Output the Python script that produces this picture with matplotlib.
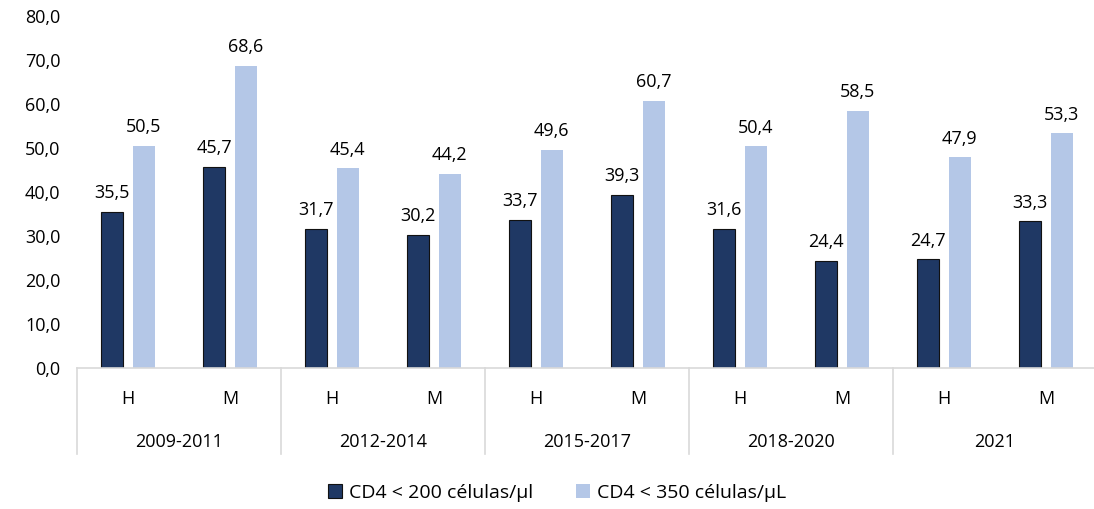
import matplotlib
matplotlib.use("Agg")
import matplotlib.pyplot as plt
import numpy as np

groups = ["2009-2011", "2012-2014", "2015-2017", "2018-2020", "2021"]
sexes = ["H", "M"]
cd4_200 = [35.5, 45.7, 31.7, 30.2, 33.7, 39.3, 31.6, 24.4, 24.7, 33.3]
cd4_350 = [50.5, 68.6, 45.4, 44.2, 49.6, 60.7, 50.4, 58.5, 47.9, 53.3]
yticks = [0, 10, 20, 30, 40, 50, 60, 70, 80]

DARK = "#1F3864"
LIGHT = "#B4C7E7"
GRID = "#D9D9D9"

plt.rcParams["font.family"] = ["Open Sans", "DejaVu Sans"]

fig = plt.figure(figsize=(10.94, 5.09), dpi=100)
W, H = 1094, 509
ax = fig.add_axes([77 / W, 1 - 368 / H, (1097 - 77) / W, (368 - 16) / H])

x = np.arange(len(cd4_200))
bw, off = 0.22, 0.155
b1 = ax.bar(x - off, cd4_200, bw, color=DARK, edgecolor="#111111", lw=0.8, label="CD4 < 200 células/µl")
b2 = ax.bar(x + off, cd4_350, bw, color=LIGHT, lw=0, label="CD4 < 350 células/µL")

fmt = lambda v: f"{v:.1f}".replace(".", ",")
for bars, vals in ((b1, cd4_200), (b2, cd4_350)):
    for r, v in zip(bars, vals):
        ax.annotate(fmt(v), (r.get_x() + r.get_width() / 2, v), xytext=(0, 7),
                    textcoords="offset points", ha="center", va="bottom", fontsize=13)

ax.set_xlim(-0.5, len(x) - 0.5)
ax.set_ylim(0, 80)
ax.set_yticks(yticks)
ax.set_yticklabels([fmt(t) for t in yticks], fontsize=13)
ax.tick_params(axis="y", length=0, pad=12)
ax.set_xticks([])
for s in ("top", "right", "left"):
    ax.spines[s].set_visible(False)
ax.spines["bottom"].set_color(GRID)
ax.spines["bottom"].set_linewidth(1.2)

trans = ax.get_xaxis_transform()
for i, s in enumerate(sexes * len(groups)):
    ax.text(i, -0.088, s, transform=trans, ha="center", va="center", fontsize=13)
for g, name in enumerate(groups):
    ax.text(2 * g + 0.5, -0.21, name, transform=trans, ha="center", va="center", fontsize=13)
for b in range(len(groups) + 1):
    ax.plot([2 * b - 0.5] * 2, [0, -0.245], transform=trans, color=GRID, lw=1.2, clip_on=False)

fig.legend(handles=[b1, b2], loc="center", bbox_to_anchor=(557 / W, 1 - 493 / H), ncol=2,
           frameon=False, fontsize=14, handlelength=0.75, handleheight=0.75, columnspacing=2.2,
           handletextpad=0.35)

fig.savefig("out.png", dpi=100)
